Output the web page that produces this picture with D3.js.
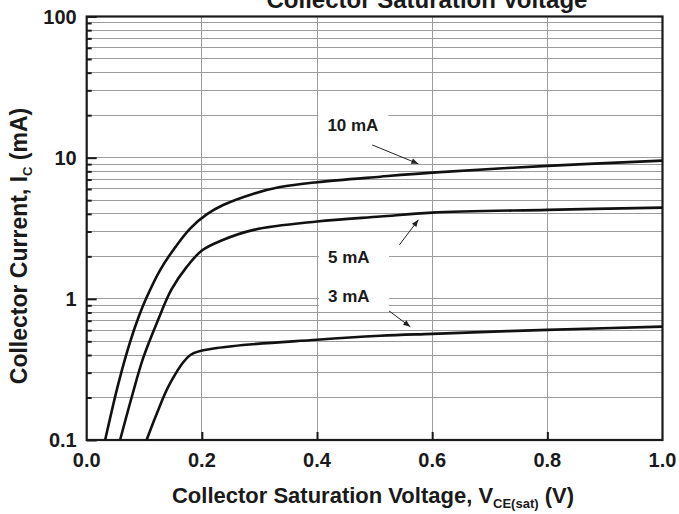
<!DOCTYPE html>
<html>
<head>
<meta charset="utf-8">
<script src="https://cdn.jsdelivr.net/npm/d3@7/dist/d3.min.js"></script>
<style>
  html, body { margin: 0; padding: 0; background: #fff; }
  svg text { font-family: "Liberation Sans", Arial, sans-serif; font-weight: bold; fill: #1a1a1a; }
</style>
</head>
<body>
<div id="chart"></div>
<script>
// values
let vce10 = [0.032, 0.055, 0.075, 0.09, 0.103, 0.127, 0.151, 0.18, 0.209, 0.237, 0.29, 0.336, 0.4, 0.51, 0.6, 0.8, 1.0]
let ic10  = [0.1, 0.251, 0.49, 0.74, 1.0, 1.585, 2.24, 3.16, 3.98, 4.62, 5.56, 6.19, 6.7, 7.33, 7.83, 8.75, 9.53]

let vce5 = [0.058, 0.078, 0.098, 0.124, 0.147, 0.174, 0.2, 0.232, 0.29, 0.4, 0.51, 0.6, 0.8, 1.0]
let ic5  = [0.1, 0.2, 0.38, 0.71, 1.16, 1.69, 2.2, 2.57, 3.08, 3.53, 3.83, 4.08, 4.27, 4.43]

let vce3 = [0.104, 0.122, 0.145, 0.18, 0.226, 0.4, 0.51, 0.6, 0.8, 1.0]
let ic3  = [0.1, 0.155, 0.253, 0.40, 0.448, 0.513, 0.547, 0.565, 0.603, 0.636]

let seriesNames = ['10 mA', '5 mA', '3 mA']

let xTicks = [0, 0.2, 0.4, 0.6, 0.8, 1.0]
let yTicks = [0.1, 1, 10, 100]

let svgW = 679, svgH = 514
let padding = {top: 16.5, right: 16.5, bottom: 74, left: 86.7}

let xScale = d3.scaleLinear()
              .domain([0, 1])
              .range([padding.left, svgW - padding.right])
let yScale = d3.scaleLog()
              .domain([0.1, 100])
              .range([svgH - padding.bottom, padding.top])

let svg = d3.select('#chart').append('svg')
            .attr('width', svgW)
            .attr('height', svgH)

// grid
let minorY = []
;[0.1, 1, 10].forEach(dec => {
  for (let k = 1; k < 10; k++) minorY.push(dec * k)
})
let grid = svg.append('g')
              .attr('stroke', '#9c9c9c')
              .attr('stroke-width', 1)
              .attr('shape-rendering', 'crispEdges')
grid.selectAll('line.h')
    .data(minorY.filter(v => v > 0.1))
    .enter().append('line')
    .attr('x1', xScale(0)).attr('x2', xScale(1))
    .attr('y1', d => yScale(d)).attr('y2', d => yScale(d))
grid.selectAll('line.v')
    .data(xTicks.filter(v => v > 0 && v < 1))
    .enter().append('line')
    .attr('y1', yScale(0.1)).attr('y2', yScale(100))
    .attr('x1', d => xScale(d)).attr('x2', d => xScale(d))

// axes with inward ticks
let xAxis = d3.axisBottom(xScale)
              .tickValues(xTicks.filter(v => v > 0 && v < 1))
              .tickSize(-8)
              .tickFormat('')
let xg = svg.append('g')
            .attr('transform', 'translate(0,' + yScale(0.1) + ')')
            .call(xAxis)
xg.select('.domain').remove()
xg.selectAll('line').attr('stroke', '#1a1a1a').attr('stroke-width', 2)

let yMinor = d3.axisLeft(yScale)
               .tickValues(minorY.filter(v => yTicks.indexOf(v) < 0))
               .tickSize(-5)
               .tickFormat('')
let yMajor = d3.axisLeft(yScale)
               .tickValues(yTicks)
               .tickSize(-10)
               .tickFormat('')
;[yMinor, yMajor].forEach(ax => {
  let g = svg.append('g')
             .attr('transform', 'translate(' + xScale(0) + ',0)')
             .call(ax)
  g.select('.domain').remove()
  g.selectAll('line').attr('stroke', '#1a1a1a').attr('stroke-width', 2)
})

// frame
svg.append('rect')
   .attr('x', xScale(0)).attr('y', yScale(100))
   .attr('width', xScale(1) - xScale(0))
   .attr('height', yScale(0.1) - yScale(100))
   .attr('fill', 'none')
   .attr('stroke', '#1a1a1a')
   .attr('stroke-width', 2.2)

// tick labels
svg.append('g').selectAll('text')
   .data(xTicks)
   .enter().append('text')
   .attr('x', d => xScale(d))
   .attr('y', yScale(0.1) + 27)
   .attr('text-anchor', 'middle')
   .attr('font-size', 20)
   .text(d => d.toFixed(1))
svg.append('g').selectAll('text')
   .data(yTicks)
   .enter().append('text')
   .attr('x', xScale(0) - 10)
   .attr('y', d => yScale(d))
   .attr('dy', '0.35em')
   .attr('text-anchor', 'end')
   .attr('font-size', 20)
   .text(d => d3.format('~g')(d))

// curves
let line = d3.line()
             .x(d => xScale(d[0]))
             .y(d => yScale(d[1]))
             .curve(d3.curveCatmullRom.alpha(0.5))
let curves = [d3.zip(vce10, ic10), d3.zip(vce5, ic5), d3.zip(vce3, ic3)]
svg.append('g').selectAll('path')
   .data(curves)
   .enter().append('path')
   .attr('d', line)
   .attr('fill', 'none')
   .attr('stroke', '#111')
   .attr('stroke-width', 2.6)
   .attr('stroke-linejoin', 'round')

// annotations (label position and arrow, in data units)
svg.append('defs').append('marker')
   .attr('id', 'ah')
   .attr('viewBox', '0 0 10 10')
   .attr('refX', 10).attr('refY', 5)
   .attr('markerWidth', 9).attr('markerHeight', 7)
   .attr('markerUnits', 'userSpaceOnUse')
   .attr('orient', 'auto')
   .append('path').attr('d', 'M0,1 L10,5 L0,9 Z').attr('fill', '#222')

let notes = [
  {label: seriesNames[0], at: [0.418, 17.1], from: [0.496, 12.3], to: [0.576, 9.04]},
  {label: seriesNames[1], at: [0.419, 1.98], from: [0.543, 2.41], to: [0.576, 3.63]},
  {label: seriesNames[2], at: [0.419, 1.05], from: [0.525, 0.822], to: [0.562, 0.634]}
]
let ng = svg.append('g').selectAll('g').data(notes).enter().append('g')
ng.append('rect')
  .attr('x', d => xScale(d.at[0]) - 9)
  .attr('y', d => yScale(d.at[1]) - 16)
  .attr('width', 70)
  .attr('height', 32)
  .attr('fill', '#fff')
ng.append('text')
  .attr('x', d => xScale(d.at[0]))
  .attr('y', d => yScale(d.at[1]))
  .attr('dy', '0.35em')
  .attr('font-size', 17)
  .text(d => d.label)
ng.append('line')
  .attr('x1', d => xScale(d.from[0])).attr('y1', d => yScale(d.from[1]))
  .attr('x2', d => xScale(d.to[0])).attr('y2', d => yScale(d.to[1]))
  .attr('stroke', '#222')
  .attr('stroke-width', 1)
  .attr('marker-end', 'url(#ah)')

// titles (top one is clipped by the page edge, as in the source image)
svg.append('text')
   .attr('x', 427).attr('y', 8)
   .attr('text-anchor', 'middle')
   .attr('font-size', 24)
   .text('Collector Saturation Voltage')

let xt = svg.append('text')
            .attr('x', 373).attr('y', 503)
            .attr('text-anchor', 'middle')
            .attr('font-size', 22)
xt.append('tspan').text('Collector Saturation Voltage, V')
xt.append('tspan').attr('font-size', 13).attr('dy', 5).text('CE(sat)')
xt.append('tspan').attr('dy', -5).text(' (V)')

let yt = svg.append('text')
            .attr('transform', 'translate(27,246) rotate(-90)')
            .attr('text-anchor', 'middle')
            .attr('font-size', 23)
yt.append('tspan').text('Collector Current, I')
yt.append('tspan').attr('font-size', 13).attr('dy', 5).text('C')
yt.append('tspan').attr('dy', -5).text(' (mA)')
</script>
</body>
</html>
